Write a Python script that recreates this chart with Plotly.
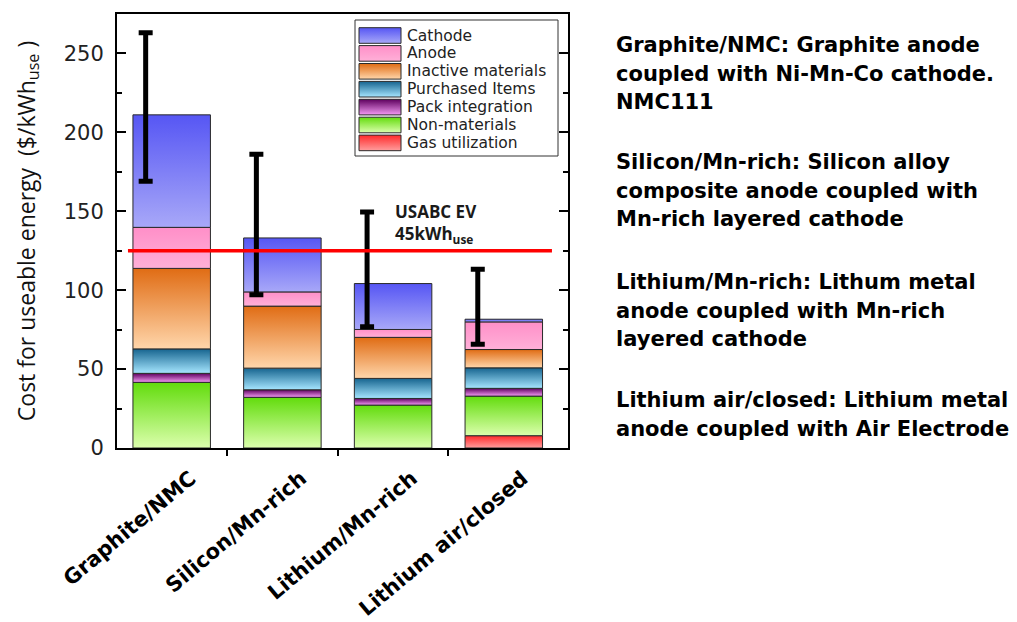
import plotly.graph_objects as go

# ---------------- data ----------------
categories = ["Graphite/NMC", "Silicon/Mn-rich", "Lithium/Mn-rich", "Lithium air/closed"]
series_names = ["Gas utilization", "Non-materials", "Pack integration",
                "Purchased Items", "Inactive materials", "Anode", "Cathode"]
gas_utilization = [0.0, 0.0, 0.0, 7.8]
non_materials = [41.6, 32.1, 27.2, 25.1]
pack_integration = [5.7, 4.8, 4.2, 4.9]
purchased_items = [15.5, 13.7, 12.7, 13.0]
inactive_materials = [51.0, 39.3, 26.0, 11.6]
anode = [26.0, 9.0, 5.0, 17.5]
cathode = [71.3, 34.2, 29.1, 1.7]
error_plus = [52.0, 53.0, 45.4, 31.7]
error_minus = [42.0, 36.0, 27.4, 15.8]
usabc_target = 125
y_tick_values = [0, 50, 100, 150, 200, 250]
legend_order = ["Cathode", "Anode", "Inactive materials", "Purchased Items",
                "Pack integration", "Non-materials", "Gas utilization"]
descriptions = [
    ["Graphite/NMC: Graphite anode", "coupled with Ni-Mn-Co cathode.", "NMC111"],
    ["Silicon/Mn-rich: Silicon alloy", "composite anode coupled with", "Mn-rich layered cathode"],
    ["Lithium/Mn-rich: Lithum metal", "anode coupled with Mn-rich", "layered cathode"],
    ["Lithium air/closed: Lithium metal", "anode coupled with Air Electrode"],
]
series_values = [gas_utilization, non_materials, pack_integration, purchased_items,
                 inactive_materials, anode, cathode]

# ---------------- styles ----------------
# (bottom/light colour, top/dark colour)
gradients = {
    "Cathode": ("#a8a8f8", "#5656f4"),
    "Anode": ("#ffb0d8", "#ff8fc8"),
    "Inactive materials": ("#ffd6ab", "#e06c14"),
    "Purchased Items": ("#a6e6ff", "#16648f"),
    "Pack integration": ("#f49af4", "#5e005e"),
    "Non-materials": ("#dcffad", "#62dc0c"),
    "Gas utilization": ("#ff9e9e", "#ff2a2a"),
}
bar_width = 0.70
err_offset = -0.235
label_shift = 0.17
outline = "#2a2a2a"

# page geometry (window pixels); the page body has an 8px margin
body_margin = 8
win_w, win_h = 1017, 622
px_left, px_right, px_top, px_bottom = 117, 568, 14, 448

fig = go.Figure()

# stacked bars drawn as filled rectangles with vertical gradients
for i, cat in enumerate(categories):
    base = 0.0
    for name, vals in zip(series_names, series_values):
        v = vals[i]
        if v <= 0:
            continue
        x0, x1 = i - bar_width / 2, i + bar_width / 2
        y0, y1 = base, base + v
        light, dark = gradients[name]
        fig.add_trace(go.Scatter(
            x=[x0, x1, x1, x0, x0], y=[y0, y0, y1, y1, y0],
            mode="lines", fill="toself",
            line=dict(color=outline, width=1),
            fillgradient=dict(type="vertical", colorscale=[[0, light], [1, dark]],
                              start=y0, stop=y1),
            name=name, showlegend=False, hoverinfo="skip",
        ))
        base = y1

totals = [sum(vals[i] for vals in series_values) for i in range(len(categories))]

# error bars
fig.add_trace(go.Scatter(
    x=[i + err_offset for i in range(len(categories))], y=totals,
    mode="markers", marker=dict(size=1, color="rgba(0,0,0,0)"),
    error_y=dict(type="data", symmetric=False, array=error_plus, arrayminus=error_minus,
                 color="black", thickness=5, width=7),
    showlegend=False, hoverinfo="skip",
))

# custom legend on a pixel-unit overlay axis
sw_x0, sw_x1 = 359, 401
row_top0, row_step, sw_h = 27.7, 17.9, 15.6
for k, name in enumerate(legend_order):
    t = row_top0 + k * row_step
    b = t + sw_h
    light, dark = gradients[name]
    fig.add_trace(go.Scatter(
        x=[sw_x0, sw_x1, sw_x1, sw_x0, sw_x0], y=[b, b, t, t, b],
        xaxis="x2", yaxis="y2", mode="lines", fill="toself",
        line=dict(color=outline, width=1),
        fillgradient=dict(type="vertical", colorscale=[[0, dark], [1, light]],
                          start=t, stop=b),
        showlegend=False, hoverinfo="skip",
    ))
    fig.add_annotation(x=405, y=t + sw_h / 2, xref="x2", yref="y2", text=name,
                       showarrow=False, xanchor="left", yanchor="middle",
                       font=dict(family="DejaVu Sans", size=15.5, color="#222"))

fig.add_shape(type="rect", xref="x2", yref="y2", x0=355, x1=558, y0=20, y1=156,
              line=dict(color="#333", width=1), fillcolor="white", layer="below")

# USABC target line
fig.add_shape(type="line", xref="x", yref="y", x0=-0.395, x1=3.435,
              y0=usabc_target, y1=usabc_target, line=dict(color="#ff0000", width=3.5))
fig.add_annotation(x=2.0, y=142.5, xref="x", yref="y",
                   text="USABC EV<br>45kWh<sub>use</sub>", showarrow=False,
                   xanchor="left", yanchor="middle", align="left",
                   font=dict(family="Open Sans", size=17, color="#1a1a1a", weight="bold"))

# right-hand descriptions, one annotation per line
para_first_line_px = [45.0, 162.0, 282.0, 400.0]
line_step_px = 28.5
for lines, top in zip(descriptions, para_first_line_px):
    for j, line in enumerate(lines):
        cy = top + j * line_step_px
        fig.add_annotation(x=(614 - px_left) / (px_right - px_left),
                           y=(px_bottom - cy) / (px_bottom - px_top),
                           xref="paper", yref="paper", text=line, showarrow=False,
                           xanchor="left", yanchor="middle", align="left",
                           font=dict(family="DejaVu Sans", size=21, color="black",
                                     weight="bold"))

fig.update_layout(
    width=win_w - body_margin, height=win_h - body_margin,
    margin=dict(l=px_left - body_margin, r=win_w - px_right,
                t=px_top - body_margin, b=win_h - px_bottom, autoexpand=False),
    plot_bgcolor="white", paper_bgcolor="white",
    showlegend=False,
    xaxis=dict(range=[-0.494, 3.58], showgrid=False, zeroline=False, automargin=False,
               tickmode="array", tickvals=[i + label_shift for i in range(len(categories))],
               ticktext=categories, ticks="", tickangle=-40,
               tickfont=dict(family="DejaVu Sans", size=21, color="black", weight="bold"),
               ticklabelstandoff=8,
               minor=dict(tickmode="array", tickvals=[0.5, 1.5, 2.5], ticks="outside",
                          ticklen=6, tickwidth=2, tickcolor="black"),
               showline=True, linecolor="black", linewidth=2, mirror=True),
    yaxis=dict(range=[0, 275], showgrid=False, zeroline=False, automargin=False,
               tickmode="array", tickvals=y_tick_values, ticks="inside",
               ticklen=9, tickwidth=1.5, tickcolor="black",
               minor=dict(dtick=25, ticks="inside", ticklen=5, tickwidth=1.5, tickcolor="black"),
               tickfont=dict(family="DejaVu Sans", size=21, color="#222"),
               ticklabelstandoff=7,
               showline=True, linecolor="black", linewidth=2, mirror="allticks",
               title=dict(text="Cost for useable energy  ($/kWh<sub>use</sub> )",
                          font=dict(family="Open Sans", size=23, color="#111"),
                          standoff=22)),
    xaxis2=dict(overlaying="x", range=[px_left, px_right], visible=False,
                fixedrange=True, automargin=False),
    yaxis2=dict(overlaying="y", range=[px_bottom, px_top], visible=False,
                fixedrange=True, automargin=False),
)

fig.write_html("out.html")
